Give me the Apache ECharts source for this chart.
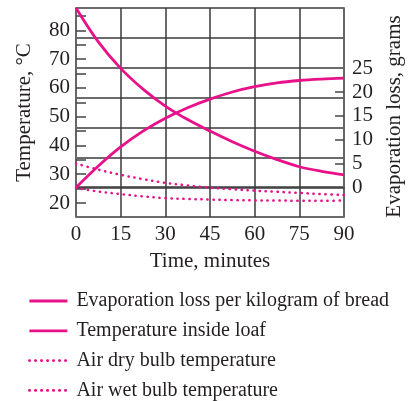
<!DOCTYPE html>
<html>
<head>
<meta charset="utf-8">
<script src="https://cdn.jsdelivr.net/npm/echarts@6/dist/echarts.min.js"></script>
<style>
  html, body { margin: 0; padding: 0; background: #fff; }
  #chart { width: 414px; height: 401px; }
</style>
</head>
<body>
<div id="chart"></div>
<script>
// Bread cooling after baking: sample times (minutes)
const timeMin = [0, 7.5, 15, 22.5, 30, 37.5, 45, 52.5, 60, 67.5, 75, 82.5, 90];

// Evaporation loss per kilogram of bread (grams, right axis)
const evaporationLoss = [0, 4.5, 8.5, 11.8, 14.5, 16.7, 18.5, 20.0, 21.1, 21.9, 22.4, 22.7, 22.9];
// Temperature inside loaf (°C, left axis)
const loafTemp = [87.8, 76.0, 66.8, 59.6, 53.7, 49.0, 45.0, 41.3, 38.0, 35.1, 32.6, 31.0, 29.8];
// Air dry bulb temperature (°C)
const dryBulb = [33.7, 31.6, 29.8, 28.3, 27.0, 26.1, 25.3, 24.8, 24.3, 23.9, 23.5, 23.1, 22.8];
// Air wet bulb temperature (°C)
const wetBulb = [25.2, 24.0, 23.1, 22.3, 21.7, 21.4, 21.2, 21.0, 20.9, 20.85, 20.8, 20.8, 20.85];

// Axis ticks and labels
const timeTicks = [0, 15, 30, 45, 60, 75, 90];
const tempLabels = [20, 30, 40, 50, 60, 70, 80];
const tempTicks = [20, 25, 30, 35, 40, 45, 50, 55, 60, 65, 70, 75, 80, 85];
const lossLabels = [0, 5, 10, 15, 20, 25];
const lossTicks = [5, 10, 15, 20];

const seriesNames = [
  'Evaporation loss per kilogram of bread',
  'Temperature inside loaf',
  'Air dry bulb temperature',
  'Air wet bulb temperature'
];

const pink = '#E8118A';
const ink = '#231f20';
const serif = 'Liberation Serif';
const dotted = [0.3, 5.7];

const pairs = (ys) => timeMin.map((t, i) => [t, ys[i]]);

const chart = echarts.init(document.getElementById('chart'), null, { renderer: 'canvas' });

chart.setOption({
  animation: false,
  backgroundColor: '#fff',
  textStyle: { fontFamily: serif, color: ink },
  grid: { left: 76, right: 70, top: 8, bottom: 184, containLabel: false },
  legend: {
    orient: 'vertical',
    left: 28,
    top: 291,
    height: 110,
    padding: 0,
    itemWidth: 38,
    itemHeight: 14,
    itemGap: 9.8,
    selectedMode: false,
    data: seriesNames,
    itemStyle: { opacity: 0 },
    lineStyle: { width: 2.8 },
    textStyle: { fontFamily: serif, fontSize: 20, lineHeight: 20, color: ink, padding: [0, 0, 0, 4] }
  },
  xAxis: {
    type: 'value',
    min: 0,
    max: 90,
    interval: 15,
    name: 'Time, minutes',
    nameLocation: 'middle',
    nameGap: 34,
    nameTextStyle: { fontFamily: serif, fontSize: 21, color: ink },
    axisLine: { show: true, lineStyle: { color: '#3a3a3a', width: 1.5 } },
    axisTick: { show: false },
    axisLabel: {
      fontFamily: serif, fontSize: 21, color: ink, margin: 7,
      customValues: timeTicks
    },
    splitLine: { show: true, lineStyle: { color: '#3a3a3a', width: 1.5 } }
  },
  yAxis: [
    {
      type: 'value',
      position: 'left',
      min: 15.13,
      max: 87.8,
      name: 'Temperature, °C',
      nameLocation: 'middle',
      nameGap: 41,
      nameRotate: 90,
      nameTextStyle: { fontFamily: serif, fontSize: 21, color: ink },
      axisLine: { show: true, lineStyle: { color: '#666', width: 2 } },
      axisTick: {
        show: true, inside: true, length: 10,
        customValues: tempTicks,
        lineStyle: { color: '#444', width: 1.5 }
      },
      axisLabel: {
        fontFamily: serif, fontSize: 21, color: ink, margin: 6,
        customValues: tempLabels
      },
      splitLine: { show: false }
    },
    {
      type: 'value',
      position: 'right',
      min: -6.15,
      max: 37.57,
      name: 'Evaporation loss, grams',
      nameLocation: 'middle',
      nameGap: 38,
      nameRotate: 90,
      nameTextStyle: { fontFamily: serif, fontSize: 21, color: ink, padding: [0, 8, 0, 0] },
      axisLine: { show: true, lineStyle: { color: '#666', width: 2 } },
      axisTick: {
        show: true, inside: true, length: 9,
        customValues: lossTicks,
        lineStyle: { color: '#444', width: 1.5 }
      },
      axisLabel: {
        fontFamily: serif, fontSize: 21, color: ink, margin: 8,
        customValues: lossLabels
      },
      splitLine: { show: false }
    },
    {
      // background grid: 7 equal rows
      type: 'value',
      position: 'left',
      min: 0,
      max: 7,
      interval: 1,
      axisLine: { show: false },
      axisTick: { show: false },
      axisLabel: { show: false },
      splitLine: { show: true, lineStyle: { color: '#3a3a3a', width: 1.5 } }
    }
  ],
  series: [
    {
      name: seriesNames[0],
      type: 'line',
      yAxisIndex: 1,
      data: pairs(evaporationLoss),
      smooth: 0.35,
      symbol: 'none',
      lineStyle: { color: pink, width: 2.8 },
      itemStyle: { color: pink }
    },
    {
      name: seriesNames[1],
      type: 'line',
      yAxisIndex: 0,
      data: pairs(loafTemp),
      smooth: 0.35,
      symbol: 'none',
      lineStyle: { color: pink, width: 2.8 },
      itemStyle: { color: pink }
    },
    {
      name: seriesNames[2],
      type: 'line',
      yAxisIndex: 0,
      data: pairs(dryBulb),
      smooth: 0.35,
      symbol: 'none',
      lineStyle: { color: pink, width: 2.5, type: dotted, cap: 'round' },
      itemStyle: { color: pink }
    },
    {
      name: seriesNames[3],
      type: 'line',
      yAxisIndex: 0,
      data: pairs(wetBulb),
      smooth: 0.35,
      symbol: 'none',
      lineStyle: { color: pink, width: 2.5, type: dotted, cap: 'round' },
      itemStyle: { color: pink }
    }
  ]
});
</script>
</body>
</html>
